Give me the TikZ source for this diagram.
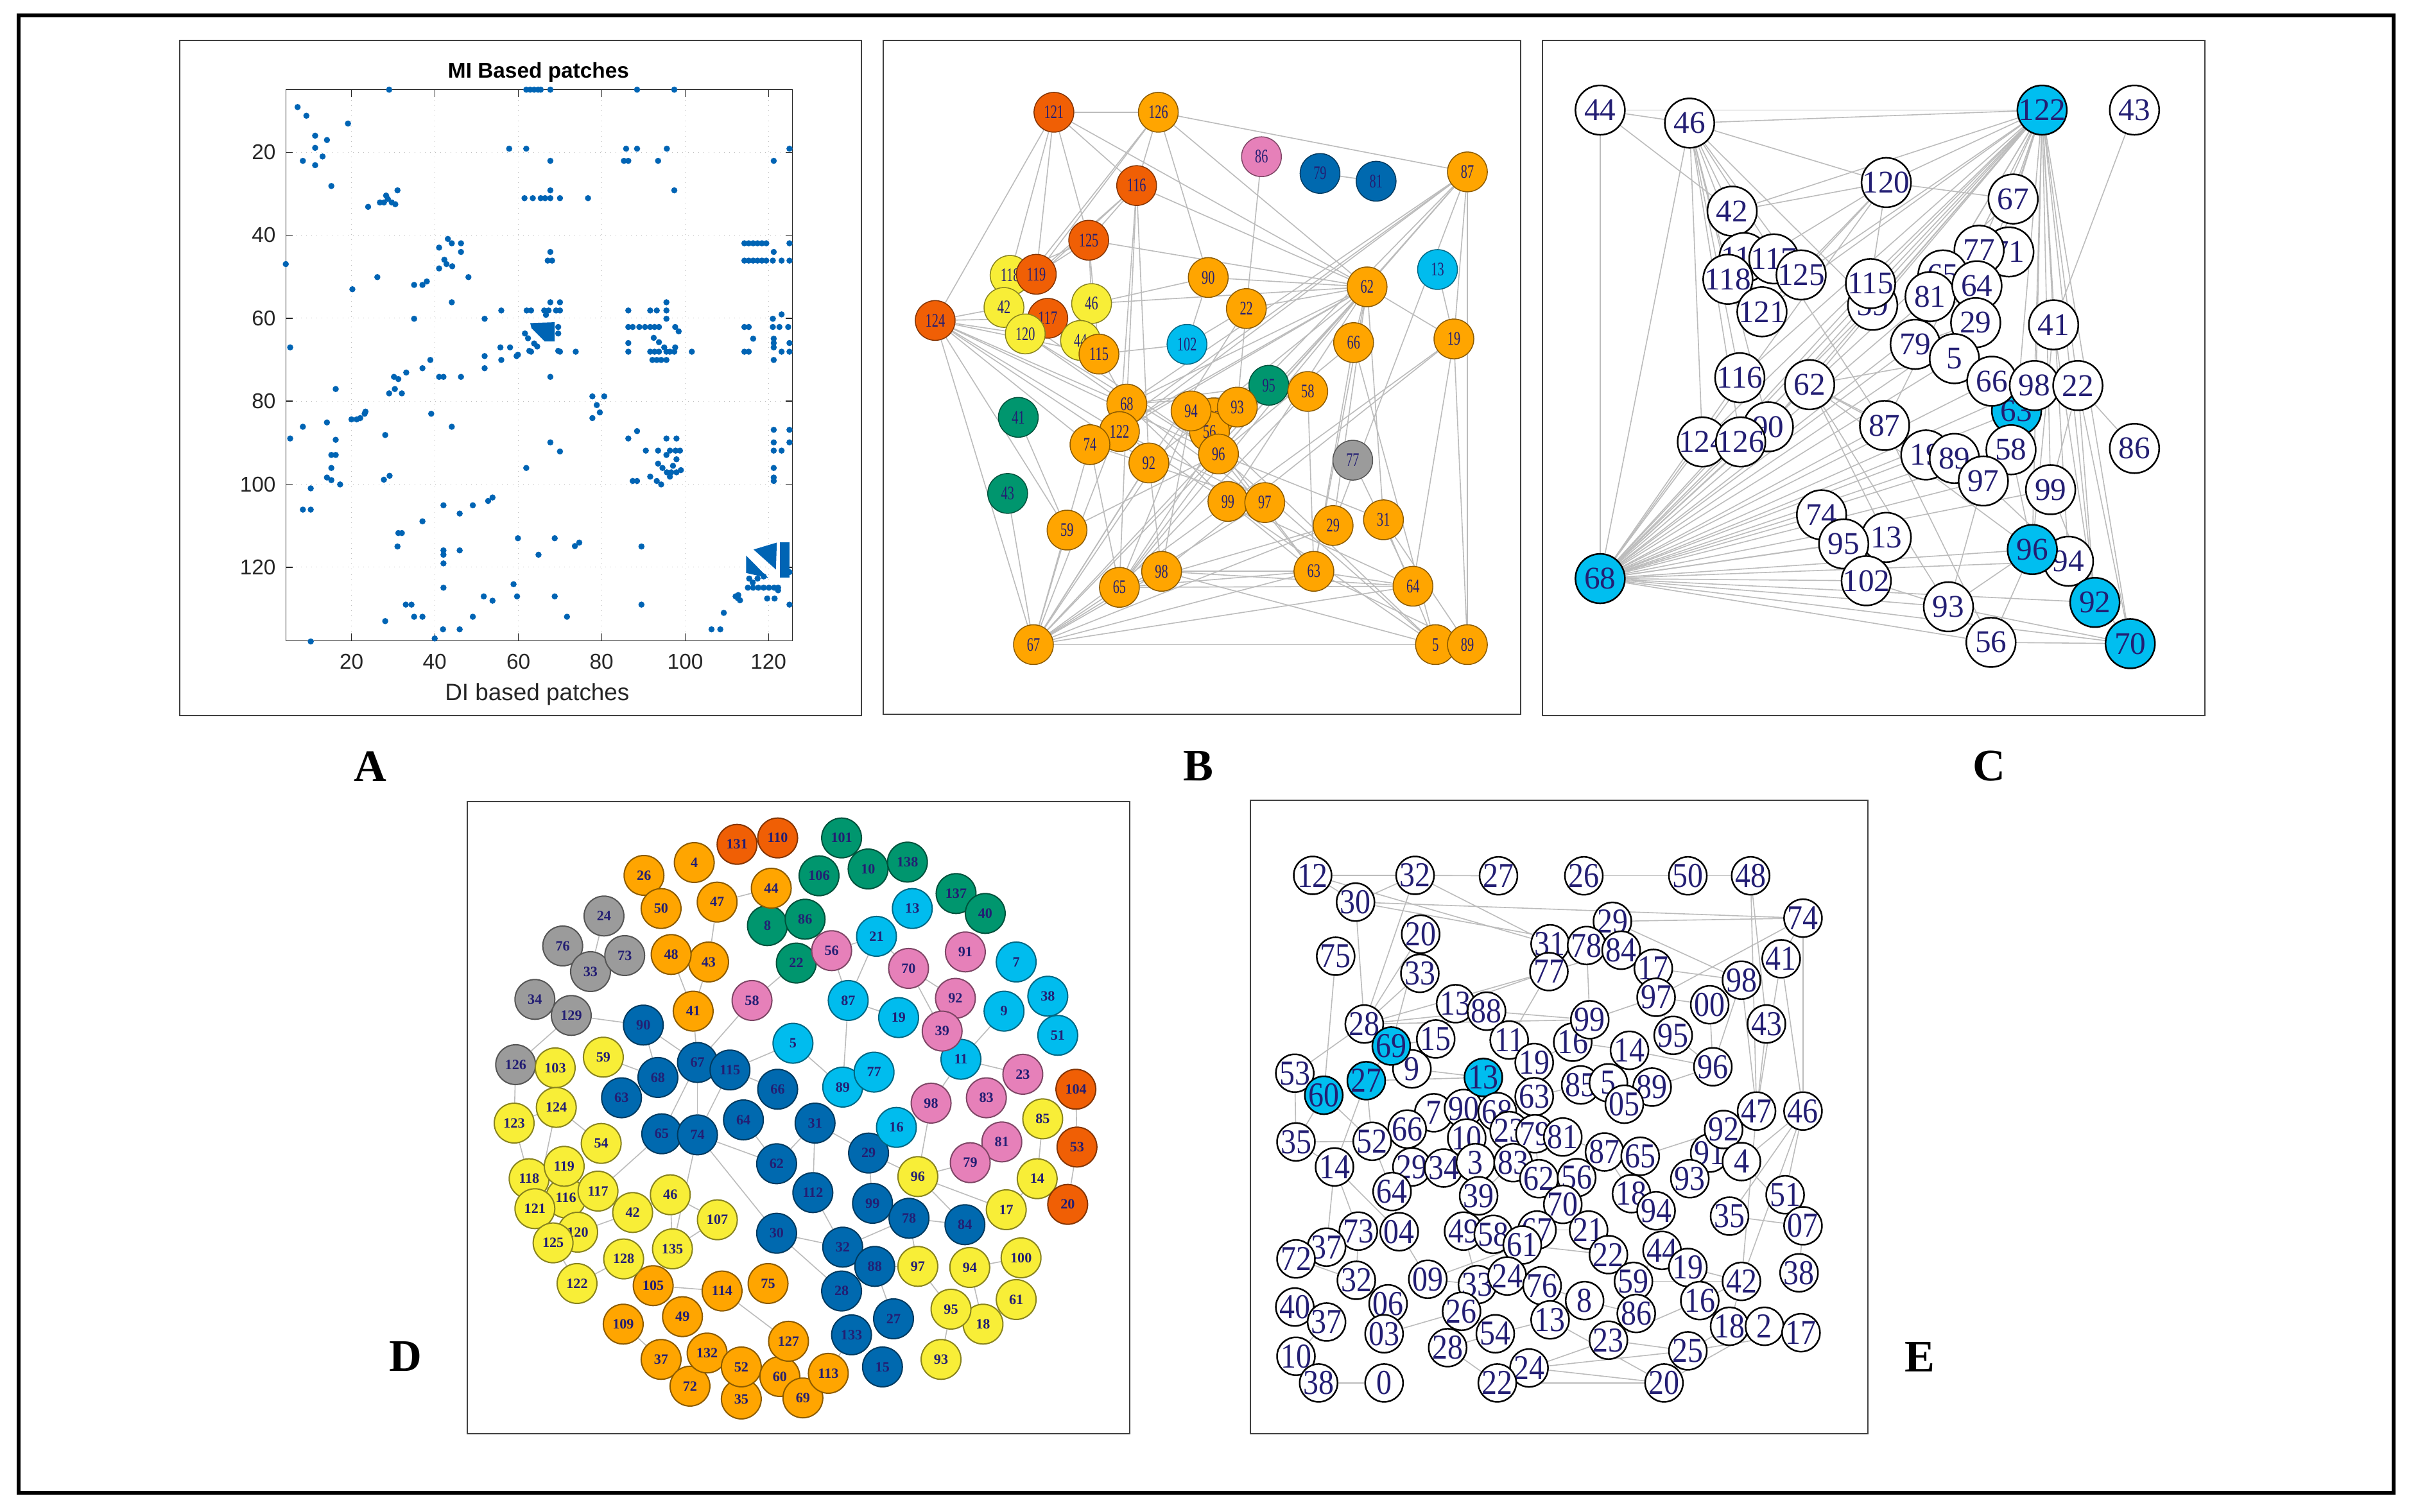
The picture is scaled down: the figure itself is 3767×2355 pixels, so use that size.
\documentclass[tikz,border=0pt]{standalone}
\usepackage{fontspec}
\setmainfont{Liberation Serif}
\newfontfamily\axisfont{Liberation Sans}
\newfontfamily\narrowfont[FakeStretch=0.68]{Liberation Serif}
\newfontfamily\tallfont[FakeStretch=0.88]{Liberation Serif}
\definecolor{orfill}{RGB}{255,165,0}
\definecolor{redfill}{RGB}{240,95,5}
\definecolor{yelfill}{RGB}{248,238,55}
\definecolor{pinkfill}{RGB}{230,128,185}
\definecolor{navyfill}{RGB}{0,105,175}
\definecolor{skyfill}{RGB}{0,188,238}
\definecolor{greenfill}{RGB}{0,150,110}
\definecolor{grayfill}{RGB}{155,155,155}
\definecolor{hubcyan}{RGB}{0,190,240}
\definecolor{numblue}{RGB}{35,30,115}
\definecolor{edgegray}{RGB}{188,188,188}
\definecolor{spyblue}{RGB}{0,100,180}
\pgfdeclarelayer{edges}
\pgfsetlayers{edges,main}
\begin{document}
\begin{tikzpicture}[x=0.1mm,y=-0.1mm]
\tikzstyle{patch}=[circle,fill=#1,draw=#1!55!black,line width=0.15mm,minimum size=6.2mm,inner sep=0pt,text=numblue,font={\narrowfont\fontsize{8.5}{8.5}\selectfont}]
\tikzstyle{cluster}=[circle,fill=#1,draw=#1!55!black,line width=0.2mm,minimum size=6.2mm,inner sep=0pt,text=numblue,font={\bfseries\fontsize{6.3}{6.3}\selectfont}]
\tikzstyle{vertex}=[circle,fill=white,draw=black,line width=0.25mm,minimum size=7.7mm,inner sep=-1mm,text=numblue,font={\fontsize{14}{14}\selectfont}]
\tikzstyle{hub}=[vertex,fill=hubcyan]
\tikzstyle{evertex}=[vertex,minimum size=5.9mm,font={\tallfont\fontsize{15.5}{15.5}\selectfont}]
\tikzstyle{ehub}=[evertex,fill=hubcyan]
\tikzstyle{edge}=[draw=edgegray,line width=0.16mm]
\tikzstyle{panel}=[draw=black!75,line width=0.25mm]
\tikzstyle{plabel}=[font={\bfseries\fontsize{20}{20}\selectfont}]
\tikzstyle{gridline}=[draw=black!25,line width=0.1mm,dotted]
\tikzstyle{axisline}=[draw=black!85,line width=0.12mm]
\tikzstyle{ticklabel}=[text=black!85,inner sep=0pt,font={\axisfont\fontsize{9.5}{9.5}\selectfont}]
\useasboundingbox (0,0) rectangle (3767,2355);
\begin{pgfonlayer}{edges}
\fill[white] (0,0) rectangle (3767,2355);
\end{pgfonlayer}
\draw[line width=0.6mm] (29,24) rectangle (3729,2326);

% panel frames and letters
\draw[panel] (280,63) rectangle (1342,1115);
\draw[panel] (1376,63) rectangle (2369,1113);
\draw[panel] (2403,63) rectangle (3435,1115);
\draw[panel] (728,1249) rectangle (1760,2234);
\draw[panel] (1948,1247) rectangle (2910,2234);
\node[plabel] (la) at (577,1194) {A};
\node[plabel] (lb) at (1867,1194) {B};
\node[plabel] (lc) at (3099,1194) {C};
\node[plabel] (ld) at (632,2114) {D};
\node[plabel] (le) at (2991,2114) {E};

% A: spy plot
\begin{scope}[shift={(276,60)},x=0.06824mm,y=-0.0676mm]
\node[font={\axisfont\bfseries\fontsize{9.5}{9.5}\selectfont}] (atitle) at (825,78) {MI Based patches};
\foreach \gx/\lab in {398/20,588/40,779/60,969/80,1160/100,1350/120} {
  \draw[gridline] (\gx,118) -- (\gx,1388);
  \draw[axisline] (\gx,1388) -- (\gx,1372) (\gx,118) -- (\gx,134);
  \node[ticklabel,anchor=north] (xt\lab) at (\gx,1418) {\lab};
}
\foreach \gy/\lab in {262/20,453/40,645/60,836/80,1028/100,1219/120} {
  \draw[gridline] (248,\gy) -- (1405,\gy);
  \draw[axisline] (248,\gy) -- (264,\gy) (1405,\gy) -- (1389,\gy);
  \node[ticklabel,anchor=east] (yt\lab) at (226,\gy) {\lab};
}
\draw[axisline] (248,118) rectangle (1405,1388);
\node[text=black!85,font={\axisfont\fontsize{10.5}{10.5}\selectfont}] (axlabel) at (822,1512) {DI based patches};
\foreach \dx/\dy in {484/118,797/118,806/118,815/118,824/118,830/118,852/118,1050/118,1135/118,248/520,258/712,258/922,1398/254,
275/158,295/178,390/196,315/224,342/234,287/282,315/252,315/292,332/272,352/340,
436/388,463/378,472/378,481/370,490/378,498/382,503/350,477/362,
758/254,797/254,852/282,793/368,812/368,830/368,840/368,852/368,874/368,852/350,938/368,
1020/282,1030/282,1025/254,1050/254,1098/282,1118/254,1135/350,1362/282,
598/482,618/462,627/472,648/472,598/530,615/520,628/525,648/492,665/550,627/608,610/510,
457/550,400/578,541/568,560/568,570/560,541/646,852/492,846/512,856/512,
1295/472,1305/472,1315/472,1325/472,1335/472,1345/472,1295/512,1305/512,1315/512,1325/512,1335/512,1345/512,1360/512,1380/512,1398/512,1362/492,1398/472,
740/627,798/627,808/627,838/627,848/627,865/627,874/627,852/608,874/608,842/637,
794/680,801/691,815/703,822/710,804/720,778/729,870/720,870/665,870/680,
702/646,738/712,760/712,775/732,808/722,874/722,910/722,740/741,702/732,702/760,
1030/627,1030/665,1030/702,1030/722,1040/665,1055/665,1068/665,1080/665,1090/665,1100/665,1117/608,1117/627,1117/646,1080/627,1095/627,
1085/741,1095/741,1105/741,1117/741,1080/722,1090/722,1100/722,1117/722,1125/722,1135/722,1137/712,1137/665,1145/675,1175/722,1088/690,1100/700,1112/712,
1295/665,1305/665,1315/692,1295/722,1305/722,1360/646,1380/636,1360/665,1375/665,1395/665,1362/692,1362/712,1362/741,1380/722,1398/722,1362/702,1398/702,
362/808,497/808,505/785,495/780,523/770,484/818,513/818,560/760,578/741,598/780,608/780,648/780,852/780,
398/878,410/878,418/875,428/865,430/860,342/885,287/895,362/925,580/865,627/895,475/914,
948/825,958/845,975/825,965/862,948/875,
1030/922,1050/905,1070/950,1098/950,1117/922,1140/922,1148/950,1098/980,1108/990,1118/1000,1125/1010,1132/985,1140/970,1117/960,1150/995,1040/1020,1050/1020,1080/1010,1095/1020,1105/1028,1128/1000,1140/1000,1138/950,1125/950,
852/931,874/952,797/990,1362/902,1362/931,1362/990,1362/1012,1362/1020,1380/950,1398/902,1398/931,1362/950,
352/960,352/1018,342/1012,372/1028,352/990,362/960,472/1017,485/1008,305/1037,287/1086,305/1086,
608/1076,645/1095,675/1076,710/1066,720/1058,560/1113,505/1140,513/1140,503/1171,608/1180,608/1190,608/1210,645/1180,
778/1152,862/1152,825/1190,908/1170,918/1162,1060/1171,
608/1266,700/1286,720/1296,768/1258,776/1286,862/1286,475/1343,522/1305,535/1305,541/1333,560/1333,675/1333,890/1333,1060/1305,
607/1362,645/1362,588/1383,305/1390,1220/1362,1240/1362,1248/1324,1275/1286,1285/1295,1280/1290,
1306/1245,1325/1245,1314/1254,1339/1240,1372/1272,1347/1291,1364/1291,1281/1283,1398/1230,1398/1305,
1303/1266,1315/1266,1327/1266,1339/1266,1351/1266,1363/1266,1372/1266}
  \fill[spyblue] (\dx,\dy) circle[radius=0.48mm];
\fill[spyblue] (806,656) -- (862,654) -- (862,698) -- (839,698) -- (809,668) -- cycle;
\fill[spyblue] (1316,1178) -- (1369,1162) -- (1367,1224) -- cycle;
\fill[spyblue] (1299,1192) -- (1299,1232) -- (1350,1244) -- cycle;
\fill[spyblue] (1376,1162) rectangle (1398,1243);
\end{scope}

% B: colored patch graph
\begin{scope}[shift={(1374,60)},x=0.06378mm,y=-0.0338mm]
\node [patch=redfill] (b121) at (420,340) {121};
\node [patch=orfill] (b126) at (675,340) {126};
\node [patch=pinkfill] (b86) at (927,545) {86};
\node [patch=navyfill] (b79) at (1070,622) {79};
\node [patch=navyfill] (b81) at (1207,658) {81};
\node [patch=orfill] (b87) at (1430,615) {87};
\node [patch=redfill] (b116) at (622,678) {116};
\node [patch=redfill] (b125) at (505,930) {125};
\node [patch=yelfill] (b118) at (313,1092) {118};
\node [patch=redfill] (b119) at (377,1087) {119};
\node [patch=yelfill] (b42) at (298,1240) {42};
\node [patch=redfill] (b117) at (405,1290) {117};
\node [patch=yelfill] (b120) at (350,1362) {120};
\node [patch=yelfill] (b46) at (512,1222) {46};
\node [patch=yelfill] (b44) at (485,1392) {44};
\node [patch=orfill] (b115) at (530,1455) {115};
\node [patch=redfill] (b124) at (130,1300) {124};
\node [patch=orfill] (b90) at (797,1102) {90};
\node [patch=orfill] (b22) at (890,1245) {22};
\node [patch=skyfill] (b102) at (745,1410) {102};
\node [patch=orfill] (b62) at (1185,1145) {62};
\node [patch=skyfill] (b13) at (1357,1065) {13};
\node [patch=orfill] (b66) at (1152,1402) {66};
\node [patch=orfill] (b19) at (1397,1385) {19};
\end{scope}
\begin{scope}[shift={(1374,560)},x=0.06378mm,y=-0.03571mm]
\node [patch=greenfill] (b95) at (945,113) {95};
\node [patch=orfill] (b58) at (1040,140) {58};
\node [patch=orfill] (b68) at (598,195) {68};
\node [patch=greenfill] (b41) at (333,253) {41};
\node [patch=orfill] (b70) at (810,255) {70};
\node [patch=orfill] (b56) at (800,315) {56};
\node [patch=orfill] (b94) at (755,225) {94};
\node [patch=orfill] (b93) at (868,208) {93};
\node [patch=orfill] (b122) at (580,315) {122};
\node [patch=orfill] (b74) at (508,372) {74};
\node [patch=orfill] (b96) at (822,413) {96};
\node [patch=orfill] (b92) at (652,452) {92};
\node [patch=grayfill] (b77) at (1150,440) {77};
\node [patch=greenfill] (b43) at (307,585) {43};
\node [patch=orfill] (b99) at (845,620) {99};
\node [patch=orfill] (b97) at (935,625) {97};
\node [patch=orfill] (b59) at (452,745) {59};
\node [patch=orfill] (b29) at (1102,725) {29};
\node [patch=orfill] (b31) at (1225,700) {31};
\node [patch=orfill] (b98) at (683,925) {98};
\node [patch=orfill] (b63) at (1055,925) {63};
\node [patch=orfill] (b65) at (580,995) {65};
\node [patch=orfill] (b64) at (1297,990) {64};
\node [patch=orfill] (b67) at (370,1245) {67};
\node [patch=orfill] (b5) at (1352,1245) {5};
\node [patch=orfill] (b89) at (1430,1245) {89};
\end{scope}

% C: white graph with hubs
\begin{scope}[shift={(2400,60)},x=0.06633mm,y=-0.0676mm]
\node [vertex] (c44) at (140,165) {44};
\node [vertex] (c46) at (350,195) {46};
\node [hub] (c122) at (1178,165) {122};
\node [vertex] (c43) at (1395,165) {43};
\node [vertex] (c120) at (812,332) {120};
\node [vertex] (c42) at (450,398) {42};
\node [vertex] (c67) at (1110,370) {67};
\node [vertex] (c71) at (1100,492) {71};
\node [vertex] (c77) at (1030,488) {77};
\node [vertex] (c119) at (478,505) {119};
\node [vertex] (c117) at (548,508) {117};
\node [vertex] (c118) at (440,555) {118};
\node [vertex] (c125) at (612,545) {125};
\node [vertex] (c121) at (520,630) {121};
\node [vertex] (c59) at (780,615) {59};
\node [vertex] (c115) at (775,565) {115};
\node [vertex] (c65) at (945,545) {65};
\node [vertex] (c81) at (915,595) {81};
\node [vertex] (c64) at (1025,570) {64};
\node [vertex] (c29) at (1022,655) {29};
\node [vertex] (c79) at (880,705) {79};
\node [vertex] (c5) at (972,738) {5};
\node [vertex] (c41) at (1205,660) {41};
\node [vertex] (c116) at (468,782) {116};
\node [vertex] (c62) at (632,798) {62};
\node [hub] (c63) at (1118,858) {63};
\node [vertex] (c66) at (1060,790) {66};
\node [vertex] (c98) at (1160,800) {98};
\node [vertex] (c22) at (1262,800) {22};
\node [vertex] (c86) at (1395,945) {86};
\node [vertex] (c87) at (808,892) {87};
\node [vertex] (c90) at (535,895) {90};
\node [vertex] (c124) at (380,930) {124};
\node [vertex] (c126) at (470,930) {126};
\node [vertex] (c19) at (905,960) {19};
\node [vertex] (c89) at (972,968) {89};
\node [vertex] (c58) at (1105,948) {58};
\node [vertex] (c97) at (1040,1020) {97};
\node [vertex] (c99) at (1198,1040) {99};
\node [vertex] (c74) at (660,1098) {74};
\node [vertex] (c13) at (812,1150) {13};
\node [vertex] (c95) at (712,1165) {95};
\node [vertex] (c102) at (765,1250) {102};
\node [vertex] (c94) at (1240,1205) {94};
\node [hub] (c96) at (1155,1178) {96};
\node [vertex] (c93) at (958,1310) {93};
\node [vertex] (c56) at (1058,1392) {56};
\node [hub] (c92) at (1302,1300) {92};
\node [hub] (c70) at (1385,1395) {70};
\node [hub] (c68) at (140,1245) {68};
\end{scope}

% D: clustered patches
\begin{scope}[shift={(725,1244)},x=0.03333mm,y=-0.03333mm]
\node [cluster=redfill] (d131) at (1270,215) {131};
\node [cluster=redfill] (d110) at (1460,185) {110};
\node [cluster=orfill] (d4) at (1070,300) {4};
\node [cluster=orfill] (d26) at (835,360) {26};
\node [cluster=orfill] (d50) at (915,515) {50};
\node [cluster=orfill] (d47) at (1177,485) {47};
\node [cluster=greenfill] (d8) at (1412,595) {8};
\node [cluster=orfill] (d44) at (1430,420) {44};
\node [cluster=grayfill] (d24) at (648,550) {24};
\node [cluster=grayfill] (d76) at (455,690) {76};
\node [cluster=grayfill] (d33) at (585,810) {33};
\node [cluster=grayfill] (d73) at (745,735) {73};
\node [cluster=orfill] (d43) at (1137,765) {43};
\node [cluster=orfill] (d48) at (962,730) {48};
\node [cluster=pinkfill] (d58) at (1340,945) {58};
\node [cluster=grayfill] (d34) at (325,940) {34};
\node [cluster=grayfill] (d129) at (495,1015) {129};
\node [cluster=orfill] (d41) at (1065,995) {41};
\node [cluster=navyfill] (d90) at (832,1060) {90};
\node [cluster=grayfill] (d126) at (235,1245) {126};
\node [cluster=yelfill] (d103) at (420,1260) {103};
\node [cluster=yelfill] (d59) at (645,1210) {59};
\node [cluster=navyfill] (d63) at (730,1400) {63};
\node [cluster=navyfill] (d68) at (900,1305) {68};
\node [cluster=navyfill] (d67) at (1085,1235) {67};
\node [cluster=navyfill] (d115) at (1237,1270) {115};
\node [cluster=navyfill] (d66) at (1460,1360) {66};
\node [cluster=yelfill] (d124) at (425,1445) {124};
\end{scope}
\begin{scope}[shift={(1225,1244)},x=0.03444mm,y=-0.03333mm]
\node [cluster=greenfill] (d101) at (250,185) {101};
\node [cluster=greenfill] (d10) at (370,330) {10};
\node [cluster=greenfill] (d138) at (548,298) {138};
\node [cluster=greenfill] (d106) at (148,362) {106};
\node [cluster=greenfill] (d86) at (85,565) {86};
\node [cluster=greenfill] (d22) at (45,770) {22};
\node [cluster=pinkfill] (d56) at (205,712) {56};
\node [cluster=skyfill] (d13) at (570,515) {13};
\node [cluster=greenfill] (d137) at (768,445) {137};
\node [cluster=greenfill] (d40) at (900,538) {40};
\node [cluster=skyfill] (d21) at (408,645) {21};
\node [cluster=pinkfill] (d70) at (553,795) {70};
\node [cluster=pinkfill] (d91) at (810,718) {91};
\node [cluster=skyfill] (d7) at (1040,765) {7};
\node [cluster=skyfill] (d87) at (280,945) {87};
\node [cluster=pinkfill] (d92) at (765,935) {92};
\node [cluster=skyfill] (d38) at (1183,925) {38};
\node [cluster=skyfill] (d19) at (508,1025) {19};
\node [cluster=skyfill] (d11) at (790,1220) {11};
\node [cluster=pinkfill] (d39) at (705,1088) {39};
\node [cluster=skyfill] (d9) at (985,995) {9};
\node [cluster=skyfill] (d51) at (1228,1108) {51};
\node [cluster=skyfill] (d5) at (30,1145) {5};
\node [cluster=skyfill] (d89) at (255,1350) {89};
\node [cluster=skyfill] (d77) at (397,1280) {77};
\node [cluster=pinkfill] (d83) at (905,1400) {83};
\node [cluster=pinkfill] (d23) at (1070,1290) {23};
\node [cluster=redfill] (d104) at (1310,1360) {104};
\node [cluster=pinkfill] (d98) at (655,1425) {98};
\end{scope}
\begin{scope}[shift={(725,1730)},x=0.03333mm,y=-0.03333mm]
\node [cluster=yelfill] (d123) at (228,60) {123};
\node [cluster=navyfill] (d64) at (1300,45) {64};
\node [cluster=navyfill] (d65) at (918,110) {65};
\node [cluster=navyfill] (d74) at (1085,115) {74};
\node [cluster=navyfill] (d62) at (1455,250) {62};
\node [cluster=yelfill] (d54) at (635,155) {54};
\node [cluster=yelfill] (d118) at (298,320) {118};
\node [cluster=yelfill] (d116) at (470,410) {116};
\node [cluster=yelfill] (d119) at (462,262) {119};
\node [cluster=yelfill] (d117) at (620,378) {117};
\node [cluster=yelfill] (d121) at (325,460) {121};
\node [cluster=yelfill] (d120) at (525,570) {120};
\node [cluster=yelfill] (d125) at (410,620) {125};
\node [cluster=yelfill] (d46) at (958,395) {46};
\node [cluster=yelfill] (d42) at (782,478) {42};
\node [cluster=yelfill] (d107) at (1178,512) {107};
\node [cluster=navyfill] (d30) at (1455,575) {30};
\node [cluster=orfill] (d105) at (878,820) {105};
\node [cluster=yelfill] (d128) at (740,695) {128};
\node [cluster=yelfill] (d135) at (968,648) {135};
\node [cluster=yelfill] (d122) at (522,810) {122};
\node [cluster=orfill] (d114) at (1200,845) {114};
\node [cluster=orfill] (d75) at (1415,810) {75};
\node [cluster=orfill] (d109) at (738,1000) {109};
\node [cluster=orfill] (d49) at (1015,965) {49};
\node [cluster=orfill] (d37) at (915,1165) {37};
\node [cluster=orfill] (d72) at (1050,1290) {72};
\node [cluster=orfill] (d132) at (1130,1135) {132};
\node [cluster=orfill] (d35) at (1290,1350) {35};
\node [cluster=orfill] (d52) at (1290,1200) {52};
\node [cluster=orfill] (d60) at (1470,1245) {60};
\end{scope}
\begin{scope}[shift={(1225,1730)},x=0.03444mm,y=-0.03333mm]
\node [cluster=navyfill] (d31) at (130,60) {31};
\node [cluster=navyfill] (d29) at (372,200) {29};
\node [cluster=skyfill] (d16) at (498,80) {16};
\node [cluster=yelfill] (d85) at (1160,40) {85};
\node [cluster=redfill] (d53) at (1315,172) {53};
\node [cluster=pinkfill] (d81) at (975,148) {81};
\node [cluster=pinkfill] (d79) at (832,245) {79};
\node [cluster=yelfill] (d96) at (595,310) {96};
\node [cluster=yelfill] (d14) at (1135,320) {14};
\node [cluster=redfill] (d20) at (1273,440) {20};
\node [cluster=navyfill] (d112) at (120,385) {112};
\node [cluster=navyfill] (d99) at (390,435) {99};
\node [cluster=navyfill] (d78) at (555,505) {78};
\node [cluster=navyfill] (d84) at (808,535) {84};
\node [cluster=yelfill] (d17) at (995,465) {17};
\node [cluster=navyfill] (d32) at (255,640) {32};
\node [cluster=navyfill] (d28) at (250,845) {28};
\node [cluster=navyfill] (d88) at (400,730) {88};
\node [cluster=yelfill] (d97) at (595,730) {97};
\node [cluster=yelfill] (d94) at (830,735) {94};
\node [cluster=yelfill] (d100) at (1062,690) {100};
\node [cluster=yelfill] (d61) at (1040,885) {61};
\node [cluster=yelfill] (d18) at (890,1000) {18};
\node [cluster=yelfill] (d95) at (745,930) {95};
\node [cluster=navyfill] (d27) at (485,975) {27};
\node [cluster=navyfill] (d133) at (295,1050) {133};
\node [cluster=navyfill] (d15) at (435,1200) {15};
\node [cluster=yelfill] (d93) at (700,1165) {93};
\node [cluster=orfill] (d127) at (10,1080) {127};
\node [cluster=orfill] (d69) at (75,1345) {69};
\node [cluster=orfill] (d113) at (190,1230) {113};
\end{scope}

% E: white graph, upper half
\begin{scope}[shift={(1946,1244)},x=0.06186mm,y=-0.03333mm]
\node [evertex] (e12) at (160,360) {12};
\node [evertex] (e32) at (418,360) {32};
\node [evertex] (e27) at (628,362) {27};
\node [evertex] (e26) at (843,362) {26};
\node [evertex] (e50) at (1105,362) {50};
\node [evertex] (e48) at (1263,362) {48};
\node [evertex] (e30) at (268,485) {30};
\node [evertex] (e74) at (1395,560) {74};
\node [evertex] (e29) at (915,575) {29};
\node [evertex] (e20) at (432,635) {20};
\node [evertex] (e75) at (218,738) {75};
\node [evertex] (e31) at (758,680) {31};
\node [evertex] (e78) at (850,688) {78};
\node [evertex] (e84) at (937,710) {84};
\node [evertex] (e41) at (1340,750) {41};
\node [evertex] (e77) at (755,810) {77};
\node [evertex] (e17) at (1018,795) {17};
\node [evertex] (e33) at (430,818) {33};
\node [evertex] (e98) at (1240,850) {98};
\node [evertex] (e97) at (1025,930) {97};
\node [evertex] (e100) at (1160,965) {00};
\node [evertex] (e13) at (520,960) {13};
\node [evertex] (e88) at (598,995) {88};
\node [evertex] (e28) at (290,1055) {28};
\node [evertex] (e16) at (815,1140) {16};
\node [evertex] (e99) at (858,1035) {99};
\node [evertex] (e95) at (1068,1108) {95};
\node [evertex] (e43) at (1303,1055) {43};
\node [evertex] (e15) at (470,1125) {15};
\node [evertex] (e11) at (655,1130) {11};
\node [evertex] (e14) at (958,1178) {14};
\node [evertex] (e96) at (1168,1255) {96};
\node [evertex] (e9) at (410,1265) {9};
\node [ehub] (e69) at (358,1158) {69};
\node [evertex] (e19) at (718,1235) {19};
\node [evertex] (e53) at (115,1285) {53};
\node [ehub] (e27b) at (295,1320) {27};
\node [ehub] (e60) at (188,1388) {60};
\node [evertex] (e85) at (835,1340) {85};
\node [evertex] (e5) at (905,1330) {5};
\node [evertex] (e89) at (1015,1350) {89};
\node [evertex] (e105) at (945,1430) {05};
\node [evertex] (e63) at (718,1395) {63};
\node [evertex] (e7) at (465,1470) {7};
\node [evertex] (e90) at (540,1450) {90};
\node [ehub] (e13b) at (590,1305) {13};
\node [evertex] (e68) at (625,1465) {68};
\node [evertex] (e47) at (1278,1462) {47};
\node [evertex] (e46) at (1395,1462) {46};
\end{scope}
% E: lower half
\begin{scope}[shift={(1946,1730)},x=0.06186mm,y=-0.03333mm]
\node [evertex] (e35) at (118,148) {35};
\node [evertex] (e66) at (398,88) {66};
\node [evertex] (e52) at (310,145) {52};
\node [evertex] (e10) at (548,130) {10};
\node [evertex] (e23) at (655,95) {23};
\node [evertex] (e79) at (720,110) {79};
\node [evertex] (e81) at (790,125) {81};
\node [evertex] (e87) at (895,195) {87};
\node [evertex] (e65) at (985,215) {65};
\node [evertex] (e91) at (1160,200) {91};
\node [evertex] (e92) at (1195,90) {92};
\node [evertex] (e4) at (1240,240) {4};
\node [evertex] (e14b) at (215,265) {14};
\node [evertex] (e29b) at (410,265) {29};
\node [evertex] (e34) at (490,270) {34};
\node [evertex] (e3) at (570,245) {3};
\node [evertex] (e83) at (665,245) {83};
\node [evertex] (e62) at (730,320) {62};
\node [evertex] (e56) at (825,315) {56};
\node [evertex] (e93) at (1110,320) {93};
\node [evertex] (e64) at (360,380) {64};
\node [evertex] (e39) at (578,400) {39};
\node [evertex] (e70) at (790,440) {70};
\node [evertex] (e18) at (963,390) {18};
\node [evertex] (e94) at (1025,470) {94};
\node [evertex] (e51) at (1350,395) {51};
\node [evertex] (e73) at (275,565) {73};
\node [evertex] (e104) at (378,568) {04};
\node [evertex] (e49) at (540,565) {49};
\node [evertex] (e58) at (615,580) {58};
\node [evertex] (e67) at (725,560) {67};
\node [evertex] (e61) at (688,630) {61};
\node [evertex] (e21) at (855,560) {21};
\node [evertex] (e35b) at (1210,495) {35};
\node [evertex] (e107) at (1395,540) {07};
\node [evertex] (e37) at (195,640) {37};
\node [evertex] (e72) at (118,695) {72};
\node [evertex] (e22) at (905,675) {22};
\node [evertex] (e44) at (1040,655) {44};
\node [evertex] (e19b) at (1105,735) {19};
\node [evertex] (e32b) at (270,795) {32};
\node [evertex] (e109) at (450,790) {09};
\node [evertex] (e33b) at (575,815) {33};
\node [evertex] (e24) at (650,775) {24};
\node [evertex] (e76) at (738,820) {76};
\node [evertex] (e42) at (1240,800) {42};
\node [evertex] (e38) at (1385,760) {38};
\node [evertex] (e59) at (968,800) {59};
\node [evertex] (e106) at (350,905) {06};
\node [evertex] (e8) at (845,890) {8};
\node [evertex] (e86) at (975,950) {86};
\node [evertex] (e16b) at (1135,890) {16};
\node [evertex] (e40) at (115,920) {40};
\node [evertex] (e37b) at (195,990) {37};
\node [evertex] (e103) at (340,1045) {03};
\node [evertex] (e26b) at (535,940) {26};
\node [evertex] (e13c) at (758,980) {13};
\node [evertex] (e54) at (620,1045) {54};
\node [evertex] (e23b) at (905,1075) {23};
\node [evertex] (e18b) at (1210,1010) {18};
\node [evertex] (e2) at (1298,1010) {2};
\node [evertex] (e17b) at (1390,1040) {17};
\node [evertex] (e10b) at (118,1150) {10};
\node [evertex] (e28b) at (500,1110) {28};
\node [evertex] (e25) at (1105,1125) {25};
\node [evertex] (e24b) at (705,1205) {24};
\node [evertex] (e38b) at (175,1275) {38};
\node [evertex] (e0) at (340,1275) {0};
\node [evertex] (e22b) at (625,1275) {22};
\node [evertex] (e20b) at (1045,1275) {20};
\end{scope}

\begin{pgfonlayer}{edges}
% B edges
\path[edge] (b121) edge (b126) edge (b124) edge (b118) edge (b119) edge (b125) edge (b116) edge (b62);
\path[edge] (b126) edge (b87) edge (b116) edge (b62) edge (b90) edge (b119) edge (b42);
\path[edge] (b116) edge (b125) edge (b119) edge (b42) edge (b62) edge (b68) edge (b122) edge (b92);
\path[edge] (b125) edge (b46) edge (b62) edge (b119) edge (b118) edge (b115);
\path[edge] (b124) edge (b42) edge (b117) edge (b120) edge (b115) edge (b68) edge (b74) edge (b67) edge (b96) edge (b122) edge (b92) edge (b59);
\path[edge] (b86) edge (b22);
\path[edge] (b79) edge (b81);
\path[edge] (b87) edge (b62) edge (b68) edge (b122) edge (b96) edge (b19) edge (b89) edge (b93) edge (b74) edge (b29);
\path[edge] (b62) edge (b90) edge (b22) edge (b68) edge (b122) edge (b74) edge (b92) edge (b96) edge (b99) edge (b29) edge (b31) edge (b63) edge (b19) edge (b66) edge (b65) edge (b67) edge (b46);
\path[edge] (b13) edge (b19);
\path[edge] (b19) edge (b89) edge (b98) edge (b64) edge (b67);
\path[edge] (b90) edge (b102) edge (b46);
\path[edge] (b22) edge (b102) edge (b93) edge (b67);
\path[edge] (b115) edge (b102) edge (b68);
\path[edge] (b66) edge (b96) edge (b63) edge (b5);
\path[edge] (b58) edge (b68) edge (b93) edge (b63) edge (b65);
\path[edge] (b95) edge (b68) edge (b94);
\path[edge] (b41) edge (b59);
\path[edge] (b43) edge (b67);
\path[edge] (b59) edge (b67) edge (b96);
\path[edge] (b67) edge (b5) edge (b89) edge (b64) edge (b63) edge (b98) edge (b65) edge (b68) edge (b74) edge (b92) edge (b96) edge (b94) edge (b29) edge (b97);
\path[edge] (b65) edge (b64) edge (b63) edge (b68) edge (b96) edge (b94) edge (b29);
\path[edge] (b98) edge (b63) edge (b64) edge (b5) edge (b94) edge (b92);
\path[edge] (b63) edge (b94) edge (b96) edge (b99) edge (b64) edge (b89);
\path[edge] (b31) edge (b96) edge (b89) edge (b5);
\path[edge] (b77) edge (b64);
\path[edge] (b5) edge (b96) edge (b99) edge (b94);
\path[edge] (b64) edge (b99);
\path[edge] (b74) edge (b97) edge (b65);
\path[edge] (b122) edge (b99) edge (b97);
\path[edge] (b68) edge (b97) edge (b99);
\path[edge] (b93) edge (b65);
\path[edge] (b120) edge (b68) edge (b96);
\path[edge] (b42) edge (b96);
% C edges
\path[edge] (c68) edge (c44) edge (c46) edge (c116) edge (c124) edge (c126) edge (c62) edge (c120) edge (c115) edge (c59) edge (c87) edge (c19) edge (c89) edge (c58) edge (c97) edge (c63) edge (c66) edge (c74) edge (c95) edge (c13) edge (c102) edge (c93) edge (c56) edge (c92) edge (c70) edge (c96) edge (c94) edge (c79) edge (c5) edge (c81) edge (c29) edge (c64) edge (c67) edge (c122) edge (c99) edge (c98);
\path[edge] (c122) edge (c44) edge (c46) edge (c120) edge (c42) edge (c125) edge (c121) edge (c116) edge (c62) edge (c115) edge (c59) edge (c81) edge (c65) edge (c77) edge (c67) edge (c41) edge (c22) edge (c98) edge (c63) edge (c99) edge (c96) edge (c92) edge (c70) edge (c94) edge (c87) edge (c124) edge (c126) edge (c90) edge (c29) edge (c5);
\path[edge] (c43) edge (c41);
\path[edge] (c44) edge (c46) edge (c42);
\path[edge] (c46) edge (c120) edge (c118) edge (c121) edge (c124) edge (c116) edge (c59) edge (c125) edge (c126) edge (c90) edge (c87) edge (c42);
\path[edge] (c120) edge (c42) edge (c125) edge (c121) edge (c115) edge (c67) edge (c118);
\path[edge] (c22) edge (c86) edge (c99) edge (c92) edge (c70);
\path[edge] (c62) edge (c87) edge (c93) edge (c96) edge (c13) edge (c89) edge (c5);
\path[edge] (c41) edge (c96) edge (c92);
\path[edge] (c87) edge (c19) edge (c97) edge (c56);
\path[edge] (c79) edge (c5) edge (c29);
\path[edge] (c29) edge (c64);
\path[edge] (c93) edge (c97) edge (c96) edge (c70);
\path[edge] (c56) edge (c96) edge (c70);
\path[edge] (c94) edge (c70);
\path[edge] (c102) edge (c93);
\path[edge] (c97) edge (c94);
\path[edge] (c58) edge (c96);
\path[edge] (c99) edge (c92);
% D edges
\path[edge] (d129) edge (d90) edge (d126);
\path[edge] (d24) edge (d33);
\path[edge] (d126) edge (d123);
\path[edge] (d59) edge (d68);
\path[edge] (d90) edge (d67) edge (d68);
\path[edge] (d67) edge (d41) edge (d58) edge (d68) edge (d74) edge (d65);
\path[edge] (d115) edge (d5) edge (d66) edge (d74);
\path[edge] (d47) edge (d44) edge (d43);
\path[edge] (d41) edge (d43) edge (d48);
\path[edge] (d58) edge (d22);
\path[edge] (d87) edge (d56) edge (d21) edge (d19) edge (d89);
\path[edge] (d21) edge (d56) edge (d70);
\path[edge] (d70) edge (d92) edge (d39);
\path[edge] (d89) edge (d5) edge (d77);
\path[edge] (d11) edge (d9) edge (d23) edge (d98);
\path[edge] (d53) edge (d104) edge (d20);
\path[edge] (d14) edge (d85) edge (d17);
\path[edge] (d96) edge (d79) edge (d29) edge (d84) edge (d98) edge (d17);
\path[edge] (d29) edge (d31) edge (d99) edge (d16);
\path[edge] (d112) edge (d31) edge (d32);
\path[edge] (d78) edge (d99) edge (d84) edge (d32) edge (d97);
\path[edge] (d95) edge (d97) edge (d93);
\path[edge] (d94) edge (d18) edge (d100);
\path[edge] (d61) edge (d18);
\path[edge] (d88) edge (d27) edge (d97);
\path[edge] (d133) edge (d113);
\path[edge] (d114) edge (d105) edge (d127);
\path[edge] (d109) edge (d37);
\path[edge] (d74) edge (d135) edge (d30) edge (d62);
\path[edge] (d65) edge (d117);
\path[edge] (d54) edge (d124);
\path[edge] (d123) edge (d118) edge (d124);
\path[edge] (d124) edge (d121);
\path[edge] (d42) edge (d120) edge (d46);
\path[edge] (d46) edge (d107) edge (d135);
\path[edge] (d107) edge (d135);
\path[edge] (d122) edge (d128) edge (d125);
\path[edge] (d62) edge (d64) edge (d31);
\path[edge] (d30) edge (d28) edge (d32);
% E edges
\path[edge] (e12) edge (e32) edge (e30) edge (e31);
\path[edge] (e32) edge (e27) edge (e31) edge (e28) edge (e30);
\path[edge] (e26) edge (e50);
\path[edge] (e50) edge (e48);
\path[edge] (e30) edge (e74) edge (e84) edge (e28);
\path[edge] (e29) edge (e74) edge (e98);
\path[edge] (e48) edge (e47) edge (e43);
\path[edge] (e74) edge (e46) edge (e97) edge (e41);
\path[edge] (e41) edge (e47) edge (e46);
\path[edge] (e43) edge (e47);
\path[edge] (e75) edge (e60);
\path[edge] (e20) edge (e28) edge (e69);
\path[edge] (e33) edge (e28);
\path[edge] (e31) edge (e77);
\path[edge] (e77) edge (e11) edge (e28) edge (e84) edge (e13);
\path[edge] (e78) edge (e84) edge (e99);
\path[edge] (e84) edge (e17);
\path[edge] (e17) edge (e97) edge (e98);
\path[edge] (e97) edge (e100) edge (e95) edge (e99);
\path[edge] (e98) edge (e47) edge (e96);
\path[edge] (e100) edge (e96);
\path[edge] (e95) edge (e96);
\path[edge] (e99) edge (e28) edge (e88) edge (e16);
\path[edge] (e16) edge (e14) edge (e19);
\path[edge] (e14) edge (e5) edge (e96);
\path[edge] (e88) edge (e28) edge (e13);
\path[edge] (e15) edge (e69);
\path[edge] (e69) edge (e27b);
\path[edge] (e27b) edge (e13b) edge (e52) edge (e14b);
\path[edge] (e9) edge (e13b);
\path[edge] (e53) edge (e60) edge (e28) edge (e35);
\path[edge] (e11) edge (e19);
\path[edge] (e13b) edge (e68) edge (e90);
\path[edge] (e19) edge (e63);
\path[edge] (e63) edge (e85);
\path[edge] (e85) edge (e5);
\path[edge] (e5) edge (e105);
\path[edge] (e105) edge (e89);
\path[edge] (e96) edge (e89);
\path[edge] (e35) edge (e52) edge (e14b);
\path[edge] (e52) edge (e66) edge (e64);
\path[edge] (e66) edge (e7);
\path[edge] (e14b) edge (e73) edge (e37) edge (e104);
\path[edge] (e73) edge (e37) edge (e32b);
\path[edge] (e37) edge (e72);
\path[edge] (e72) edge (e32b);
\path[edge] (e32b) edge (e106);
\path[edge] (e106) edge (e103);
\path[edge] (e40) edge (e37b);
\path[edge] (e10b) edge (e38b) edge (e37b);
\path[edge] (e38b) edge (e0);
\path[edge] (e104) edge (e64) edge (e109);
\path[edge] (e64) edge (e29b);
\path[edge] (e29b) edge (e34);
\path[edge] (e34) edge (e3);
\path[edge] (e3) edge (e83) edge (e10);
\path[edge] (e83) edge (e62) edge (e39);
\path[edge] (e62) edge (e56) edge (e79);
\path[edge] (e56) edge (e70);
\path[edge] (e70) edge (e21);
\path[edge] (e21) edge (e22) edge (e67);
\path[edge] (e22) edge (e59) edge (e61);
\path[edge] (e59) edge (e86) edge (e42) edge (e44);
\path[edge] (e86) edge (e23b) edge (e8);
\path[edge] (e23b) edge (e25) edge (e24b) edge (e16b);
\path[edge] (e25) edge (e20b) edge (e17b) edge (e18b);
\path[edge] (e20b) edge (e24b) edge (e13c) edge (e22b) edge (e2);
\path[edge] (e24b) edge (e22b) edge (e25);
\path[edge] (e22b) edge (e28b);
\path[edge] (e28b) edge (e54) edge (e26b);
\path[edge] (e54) edge (e13c) edge (e26b);
\path[edge] (e13c) edge (e76);
\path[edge] (e76) edge (e8) edge (e24);
\path[edge] (e44) edge (e19b) edge (e94);
\path[edge] (e19b) edge (e42);
\path[edge] (e42) edge (e18b) edge (e46) edge (e47) edge (e16b);
\path[edge] (e18b) edge (e2) edge (e16b);
\path[edge] (e2) edge (e17b);
\path[edge] (e51) edge (e107) edge (e46);
\path[edge] (e107) edge (e38) edge (e35b) edge (e4);
\path[edge] (e92) edge (e91) edge (e65);
\path[edge] (e91) edge (e93);
\path[edge] (e93) edge (e4) edge (e47);
\path[edge] (e4) edge (e46);
\path[edge] (e65) edge (e87) edge (e18);
\path[edge] (e87) edge (e18) edge (e81);
\path[edge] (e18) edge (e94);
\path[edge] (e49) edge (e58) edge (e39) edge (e33b);
\path[edge] (e58) edge (e61);
\path[edge] (e61) edge (e67) edge (e109);
\path[edge] (e109) edge (e33b);
\path[edge] (e33b) edge (e24);
\path[edge] (e103) edge (e26b);
\path[edge] (e46) edge (e35b);
\path[edge] (e60) edge (e35) edge (e52);
\end{pgfonlayer}
\end{tikzpicture}
\end{document}
